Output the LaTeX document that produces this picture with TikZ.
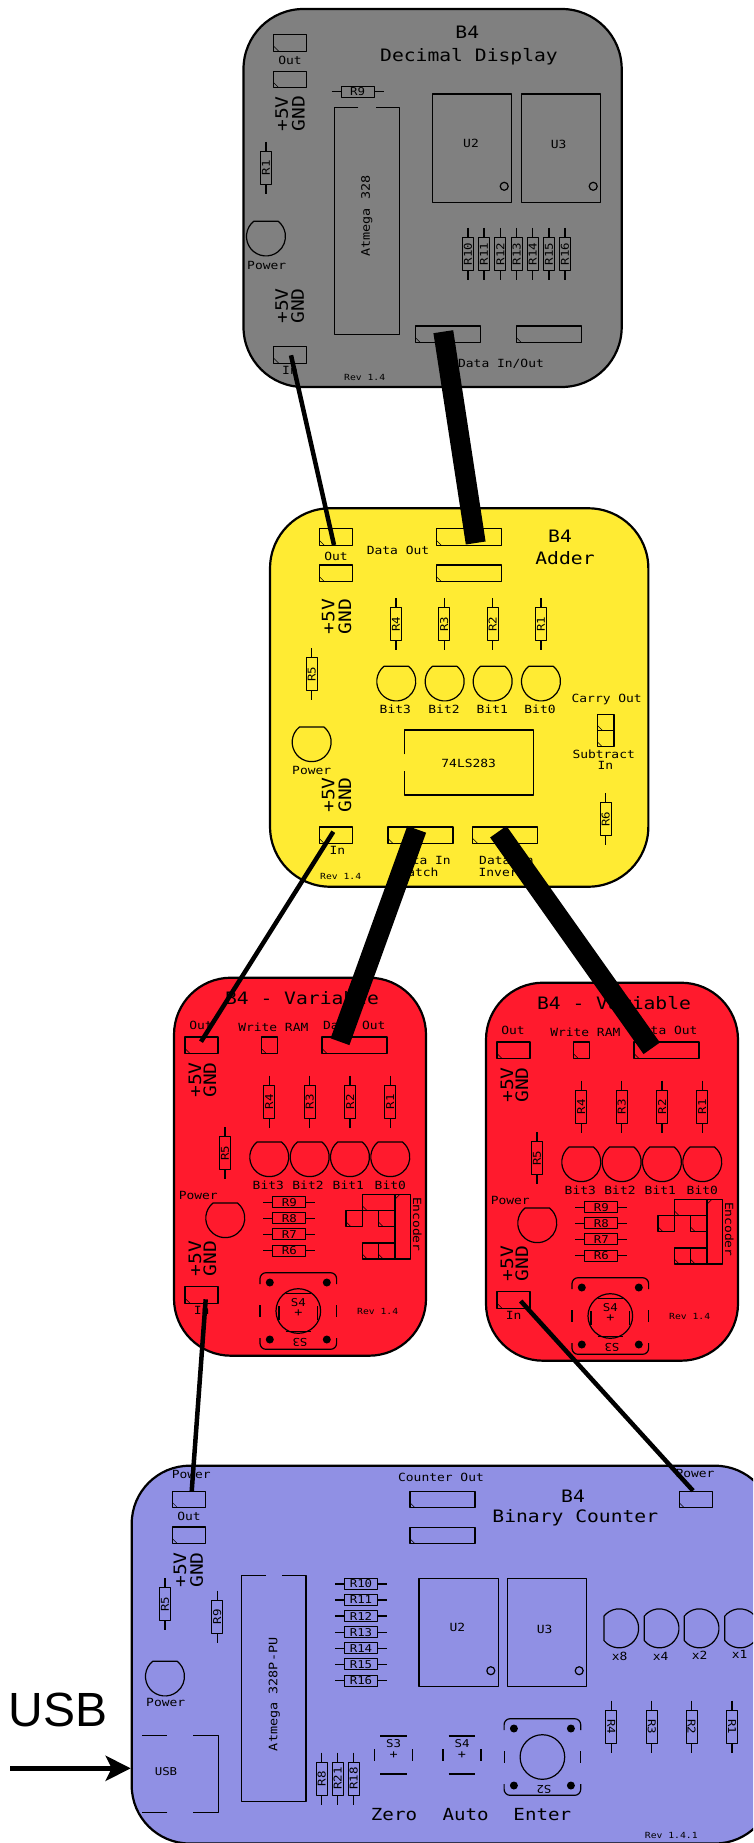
\documentclass[tikz,border=0pt]{standalone}
\usepackage{fontspec}
\setmainfont[FakeStretch=1.15]{DejaVu Sans Mono}
\newfontfamily\pxsans{Liberation Sans}
\usetikzlibrary{arrows.meta}
\newcounter{txtn}
\definecolor{bgray}{RGB}{128,128,128}
\definecolor{byellow}{RGB}{255,235,51}
\definecolor{bred}{RGB}{255,26,45}
\definecolor{bblue}{RGB}{144,144,228}
\tikzset{
  comp/.style={line width=1.2pt,black,line join=round},
  fine/.style={line width=0.5pt,black},
  txt/.style={inner sep=0pt,outer sep=0pt,black},
  boardbox/.style={draw=black,line width=2.2pt,inner sep=0pt,rectangle},
  thinlink/.style={line width=4.5pt,black},
  thicklink/.style={line width=20pt,black},
}
\newcommand\pxT[5][0]{\stepcounter{txtn}\pgfmathsetmacro\pxfs{#4*0.9}\node[txt,rotate=#1] (t\arabic{txtn}) at (#2,#3) {\fontsize{\pxfs}{\pxfs}\selectfont #5};}
\newcommand\pxBoxLL[4]{\draw[comp] (#1,#2) rectangle ++(#3,#4); \draw[fine] (#1,#2+#4-5) -- ++(5,5);}
\newcommand\pxBoxTL[4]{\draw[comp] (#1,#2) rectangle ++(#3,#4); \draw[fine] (#1,#2+5) -- ++(5,-5);}
\newcommand\pxConn[3]{\pxBoxLL{#1}{#2}{#3}{16.5}}
\newcommand\pxVres[4][90]{\draw[comp] (#2,#3-26) -- (#2,#3-16.5) (#2,#3+16.5) -- (#2,#3+26); \draw[comp] (#2-5.5,#3-16.5) rectangle (#2+5.5,#3+16.5); \pxT[#1]{#2}{#3}{12}{#4}}
\newcommand\pxHres[3]{\draw[comp] (#1-26,#2) -- (#1-16.5,#2) (#1+16.5,#2) -- (#1+26,#2); \draw[comp] (#1-16.5,#2-5.5) rectangle (#1+16.5,#2+5.5); \pxT{#1}{#2}{12}{#3}}
\newcommand\pxLed[2]{\draw[comp] (#1-12.3,#2-15.2) arc[start angle=129,delta angle=282,radius=19.5pt] -- cycle;}
\newcommand\pxLedL[2]{\draw[comp] (#1-15.2,#2+12.3) arc[start angle=219,delta angle=282,radius=19.5pt] -- cycle;}
\newcommand\pxChipU[5]{\draw[comp] (#1,#2) rectangle (#3,#4); \draw[comp] (#3-7.5,#4-16) circle[radius=4pt];}
\newcommand\pxSw[2]{\begin{scope}[shift={(#1,#2)}]
  \draw[comp,rounded corners=6pt] (-38.3,-27) -- (-38.3,-38.3) -- (38.3,-38.3) -- (38.3,-27);
  \draw[comp,rounded corners=6pt] (-38.3,27) -- (-38.3,38.3) -- (38.3,38.3) -- (38.3,27);
  \draw[comp] (-38.3,-6) -- (-38.3,6) (38.3,-6) -- (38.3,6);
  \draw[comp] (0,0) circle[radius=22.3pt];
  \foreach \a/\b in {-28.5/-28.5,28.5/-28.5,-28.5/28.5,28.5/28.5}{\fill (\a,\b) circle[radius=4pt];}
\end{scope}}
\newcommand\pxSmallSw[3]{\begin{scope}[shift={(#1,#2)}]
  \draw[comp] (-13.3,-19) -- (13.3,-19) (-13.3,19) -- (13.3,19) (-19,-6) -- (-19,6) (19,-6) -- (19,6);
  \pxT{0}{-11}{12}{#3}
  \pxT{0}{0}{13}{+}
\end{scope}}
\newcommand\pxVar{%
  \pxT{302}{998.3}{19}{B4 - Variable}
  \pxT{201}{1025.7}{12.5}{Out}
  \pxT{273.3}{1027}{12.5}{Write RAM}
  \pxT{354.3}{1025}{12.5}{Data Out}
  \pxConn{185}{1037}{33}
  \pxConn{261.3}{1037}{16.5}
  \pxConn{322}{1037}{65}
  \pxT[90]{195}{1080}{19}{+5V}
  \pxT[90]{210}{1080}{19}{GND}
  \pxVres{269.3}{1101.7}{R4}
  \pxVres{309.7}{1101.7}{R3}
  \pxVres{350}{1101.7}{R2}
  \pxVres{390.3}{1101.7}{R1}
  \pxVres{225}{1153.3}{R5}
  \pxLed{269.3}{1157.2}
  \pxLed{309.7}{1157.2}
  \pxLed{350}{1157.2}
  \pxLed{390.3}{1157.2}
  \pxT{268.3}{1185.7}{12.5}{Bit3}
  \pxT{308}{1185.7}{12.5}{Bit2}
  \pxT{348.3}{1185.7}{12.5}{Bit1}
  \pxT{390.3}{1185.7}{12.5}{Bit0}
  \pxT{198.3}{1195}{12.5}{Power}
  \pxLed{225.3}{1218.2}
  \pxHres{289.3}{1202.3}{R9}
  \pxHres{289.3}{1218.3}{R8}
  \pxHres{289.3}{1234.3}{R7}
  \pxHres{289.3}{1250.7}{R6}
  \pxBoxTL{395}{1194.3}{15.7}{64.7}
  \pxBoxLL{362.3}{1194.3}{32.7}{16.4}
  \pxBoxLL{346}{1210.7}{16.3}{16}
  \pxBoxLL{378.3}{1210.7}{16.7}{16}
  \pxBoxLL{362.3}{1243}{16}{16}
  \pxBoxLL{378.3}{1243}{16.7}{16}
  \pxT[-90]{417.3}{1224.3}{12.5}{Encoder}
  \pxT[90]{195}{1258.3}{19}{+5V}
  \pxT[90]{210}{1258.3}{19}{GND}
  \pxConn{185}{1286.7}{33}
  \pxT{201.7}{1310.7}{12.5}{In}
  \pxSw{298.3}{1311}
  \draw[comp] (285.7,1293.3) -- (310.7,1293.3) (285.7,1331.7) -- (310.7,1331.7) (279,1306) -- (279,1320) (317.5,1306) -- (317.5,1320);
  \pxT{298.3}{1302.3}{12}{S4}
  \pxT{298.3}{1313.3}{13}{+}
  \pxT[180]{300}{1342.7}{12}{S3}
  \pxT{377.7}{1311.7}{9.4}{Rev 1.4}
}
\begin{document}
\begin{tikzpicture}[x=1pt,y=-1pt]
\clip (0,0) rectangle (753,1843);
\fill[white] (0,0) rectangle (753,1843);

% ---------- Decimal display
\node[boardbox,fill=bgray,rounded corners=60pt,minimum width=378.2pt,minimum height=378pt] (gray) at (432.6,198) {};
\pxT{467.3}{32.3}{19}{B4}
\pxT{469}{57}{19}{Decimal Display}
\pxConn{273.7}{34.7}{33}
\pxT{290}{60}{12.5}{Out}
\pxConn{273.7}{71.3}{33}
\pxT[90]{281.7}{114}{19}{+5V}
\pxT[90]{298.3}{113.3}{19}{GND}
\pxVres{266}{168}{R1}
\pxLed{266}{236.5}
\pxT{266.7}{265.7}{12.5}{Power}
\pxT[90]{281.7}{306}{19}{+5V}
\pxT[90]{297.7}{306}{19}{GND}
\pxConn{273.7}{346.7}{33}
\pxT{290}{370}{12.5}{In}
\pxT{364.7}{377}{9.4}{Rev 1.4}
\pxHres{357.7}{91.7}{R9}
\draw[comp] (358.3,107.7) -- (334.7,107.7) -- (334.7,334.3) -- (399.3,334.3) -- (399.3,107.7) -- (375.7,107.7);
\pxT[90]{366.7}{216}{13}{Atmega 328}
\pxChipU{432.3}{94}{511.7}{202.3}{}
\pxT{471}{143.3}{12.5}{U2}
\pxChipU{521.3}{94}{600.7}{202.3}{}
\pxT{558.7}{144.3}{12.5}{U3}
\pxVres{468}{254}{R10}
\pxVres{484}{254}{R11}
\pxVres{500.3}{254}{R12}
\pxVres{516.7}{254}{R13}
\pxVres{532.7}{254}{R14}
\pxVres{549}{254}{R15}
\pxVres{565}{254}{R16}
\pxConn{415.3}{326}{65}
\pxConn{516.3}{326}{65}
\pxT{501}{364}{12.5}{Data In/Out}

% ---------- Adder
\node[boardbox,fill=byellow,rounded corners=60pt,minimum width=378.3pt,minimum height=378.4pt] (adder) at (459.2,697.5) {};
\pxConn{319.3}{528.7}{33}
\pxConn{319.3}{565}{33}
\pxT{336}{556.7}{12.5}{Out}
\pxT{398}{550.7}{12.5}{Data Out}
\pxConn{436.3}{528.7}{65}
\pxConn{436.3}{565}{65}
\pxT{560}{536.7}{19}{B4}
\pxT{565}{558}{19}{Adder}
\pxT[90]{328.3}{616.7}{19}{+5V}
\pxT[90]{345}{616.7}{19}{GND}
\pxVres{311.7}{674}{R5}
\pxVres{396}{624}{R4}
\pxVres{444.3}{624}{R3}
\pxVres{492.7}{624}{R2}
\pxVres{541}{624}{R1}
\pxLed{396.3}{681.5}
\pxLed{444.7}{681.5}
\pxLed{492.7}{681.5}
\pxLed{541}{681.5}
\pxT{395.3}{709.7}{12.5}{Bit3}
\pxT{444}{709.7}{12.5}{Bit2}
\pxT{492.3}{709.7}{12.5}{Bit1}
\pxT{540}{709.7}{12.5}{Bit0}
\pxT{606.7}{699.3}{12.5}{Carry Out}
\pxBoxLL{597.3}{714.3}{16.7}{16}
\pxBoxLL{597.3}{730.3}{16.7}{16.4}
\pxT{603.7}{754.7}{12.5}{Subtract}
\pxT{605.3}{765}{12.5}{In}
\pxLed{311.7}{742.2}
\pxT{311.7}{770.3}{12.5}{Power}
\pxT[90]{328.3}{795}{19}{+5V}
\pxT[90]{345}{795}{19}{GND}
\draw[comp] (404.3,754.3) -- (404.3,730) -- (533.3,730) -- (533.3,795) -- (404.3,795) -- (404.3,770.7);
\pxT{468.7}{763.3}{12.5}{74LS283}
\pxVres{605.7}{819.3}{R6}
\pxConn{319.3}{827}{33}
\pxT{337.3}{850.7}{12.5}{In}
\pxConn{388}{827}{65}
\pxConn{472.7}{827}{65}
\pxT{423.5}{860.3}{12.5}{Data In}
\pxT{419}{872.7}{12.5}{Latch}
\pxT{506.5}{860.3}{12.5}{Data In}
\pxT{502}{872.7}{12.5}{Invert}
\pxT{340.7}{876.3}{9.4}{Rev 1.4}

% ---------- Variables
\node[boardbox,fill=bred,rounded corners=57pt,minimum width=252pt,minimum height=378pt] (varA) at (300,1166.7) {};
\node[boardbox,fill=bred,rounded corners=57pt,minimum width=252pt,minimum height=378pt] (varB) at (612,1171.7) {};
\pxVar
\begin{scope}[shift={(312,5)}]
\pxVar
\end{scope}

% ---------- Counter
\node[boardbox,fill=bblue,rounded corners=58pt,minimum width=641.3pt,minimum height=377.8pt] (counter) at (452.35,1654.6) {};
\pxT{191.3}{1474.7}{12.5}{Power}
\pxConn{172.7}{1491.3}{33}
\pxT{189}{1516.7}{12.5}{Out}
\pxConn{172.3}{1527}{33}
\pxT[90]{180}{1570}{19}{+5V}
\pxT[90]{196.7}{1570}{19}{GND}
\pxVres{165}{1604.3}{R5}
\pxVres{217.3}{1616.7}{R9}
\pxLed{165}{1676.5}
\pxT{165.7}{1702}{12.5}{Power}
\stepcounter{txtn}\node[txt] (usblabel) at (58.3,1710) {\pxsans\fontsize{48}{48}\selectfont USB};
\pxT{166}{1772}{12}{USB}
\draw[comp,line width=0.9pt] (142.3,1735.7) -- (167.3,1735.7) (193.3,1735.7) -- (218.3,1735.7) -- (218.3,1812) -- (193.3,1812) (167.3,1812) -- (142.3,1812);
\draw[comp] (265.7,1575.7) -- (241.3,1575.7) -- (241.3,1801.7) -- (306,1801.7) -- (306,1575.7) -- (282,1575.7);
\pxT[90]{274.3}{1694.3}{13}{Atmega 328P-PU}
\pxHres{361}{1584}{R10}
\pxHres{361}{1600}{R11}
\pxHres{361}{1616}{R12}
\pxHres{361}{1632.3}{R13}
\pxHres{361}{1648.3}{R14}
\pxHres{361}{1664.3}{R15}
\pxHres{361}{1680.7}{R16}
\pxVres{321.7}{1778.7}{R8}
\pxVres{337.7}{1778.7}{R21}
\pxVres{353.7}{1778.7}{R18}
\pxT{441}{1477.3}{12.5}{Counter Out}
\pxConn{410}{1491.3}{65}
\pxConn{410}{1527.3}{65}
\pxT{573}{1496.7}{19}{B4}
\pxT{575.3}{1518}{19}{Binary Counter}
\pxT{695}{1473.7}{12.5}{Power}
\pxConn{679.3}{1491.3}{33}
\pxChipU{419}{1578.3}{498.3}{1686.7}{}
\pxT{457.3}{1627.7}{12.5}{U2}
\pxChipU{507.3}{1578.3}{586.7}{1686.7}{}
\pxT{544.7}{1629}{12.5}{U3}
\pxLedL{619.2}{1628.3}
\pxLedL{659.5}{1628.3}
\pxLedL{699.5}{1628.3}
\pxLedL{740}{1628.3}
\pxT{619.7}{1656}{12.5}{x8}
\pxT{660.7}{1656}{12.5}{x4}
\pxT{699.7}{1655.3}{12.5}{x2}
\pxT{739.7}{1654.7}{12.5}{x1}
\pxVres[-90]{611.3}{1726.7}{R4}
\pxVres[-90]{651.7}{1726.7}{R3}
\pxVres[-90]{691.7}{1726.7}{R2}
\pxVres[-90]{732}{1726.7}{R1}
\pxSmallSw{393.7}{1755}{S3}
\pxSmallSw{462}{1755}{S4}
\pxSw{542.4}{1757}
\pxT[180]{544}{1789}{12}{S2}
\pxT{394}{1815}{18.5}{Zero}
\pxT{465.7}{1815}{18.5}{Auto}
\pxT{542.3}{1814.3}{18.5}{Enter}
\pxT{671.3}{1835}{9.4}{Rev 1.4.1}

% ---------- Connectors
\coordinate (grayIn) at (291,355.3);
\coordinate (adderOut) at (334,545);
\coordinate (grayData) at (443.3,331.7);
\coordinate (adderData) at (475.7,543);
\coordinate (adderIn) at (333.3,831.7);
\coordinate (varAOut) at (201,1041.7);
\coordinate (adderLatch) at (416.7,829.3);
\coordinate (varAData) at (340,1041.7);
\coordinate (adderInv) at (498.3,831.7);
\coordinate (varBData) at (651.7,1048.3);
\coordinate (varAIn) at (205.7,1299.3);
\coordinate (cntOut) at (191.7,1491.3);
\coordinate (varBIn) at (520.7,1301);
\coordinate (cntPower) at (693,1490.7);
\coordinate (usbStart) at (10,1768.3);
\coordinate (usbEnd) at (130.7,1768.3);
\draw[thinlink] (grayIn) -- (adderOut);
\draw[thicklink] (grayData) -- (adderData);
\draw[thinlink] (adderIn) -- (varAOut);
\draw[thicklink] (adderLatch) -- (varAData);
\draw[thicklink] (adderInv) -- (varBData);
\draw[thinlink] (varAIn) -- (cntOut);
\draw[thinlink] (varBIn) -- (cntPower);
\draw[line width=5pt,-{Stealth[length=25pt,width=25pt,inset=6pt]}] (usbStart) -- (usbEnd);
\end{tikzpicture}
\end{document}
